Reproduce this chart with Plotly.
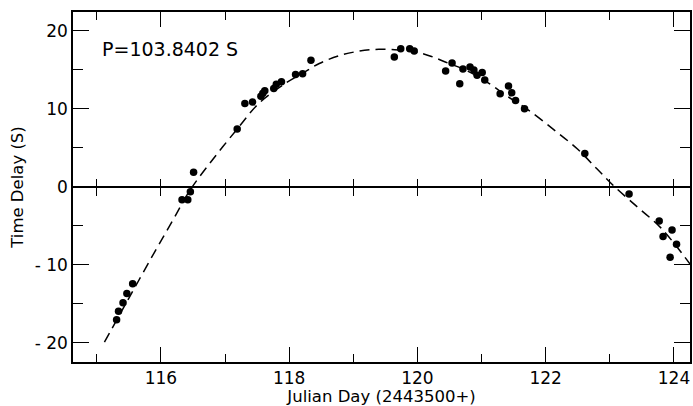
import plotly.graph_objects as go

# ---- data ----
obs_day = [115.31, 115.34, 115.41, 115.47, 115.56, 116.33, 116.42, 116.46, 116.51,
           117.19, 117.31, 117.43, 117.56, 117.59, 117.62, 117.76, 117.80, 117.88,
           118.10, 118.21, 118.34, 119.64, 119.74, 119.88, 119.95, 120.44, 120.54,
           120.66, 120.71, 120.82, 120.88, 120.93, 121.01, 121.05, 121.29, 121.42,
           121.47, 121.53, 121.67, 122.61, 123.30, 123.77, 123.83, 123.94, 123.97,
           124.04]
obs_delay = [-17.04, -15.96, -14.87, -13.67, -12.44, -1.66, -1.66, -0.64, 1.86,
             7.4, 10.68, 10.85, 11.6, 12.0, 12.3, 12.6, 13.15, 13.45,
             14.38, 14.5, 16.2, 16.64, 17.7, 17.7, 17.4, 14.85, 15.87,
             13.2, 15.1, 15.36, 14.98, 14.3, 14.64, 13.7, 11.92, 12.9,
             12.04, 11.06, 10.0, 4.25, -0.94, -4.39, -6.39, -9.03, -5.54,
             -7.37]

fit_day = [115.12, 115.5, 115.9, 116.2, 116.45, 116.8, 117.19, 117.53, 117.95,
           118.21, 118.47, 118.78, 119.09, 119.4, 119.71, 119.97, 120.22, 120.48,
           120.74, 121.05, 121.4, 121.72, 122.13, 122.5, 122.81, 123.05, 123.43,
           123.8, 124.25]
fit_delay = [-19.9, -14.3, -8.4, -4.1, -0.5, 3.4, 7.4, 10.7, 13.3,
             14.55, 15.8, 16.8, 17.38, 17.62, 17.53, 17.3, 16.7, 15.84,
             15.0, 13.6, 11.6, 9.9, 7.3, 4.8, 2.2, 0.2, -2.6,
             -5.3, -9.9]

x_ticks = [116, 118, 120, 122, 124]
y_ticks = [-20, -10, 0, 10, 20]
y_ticktext = ["- 20", "- 10", "0", "10", "20"]
period_label = "P=103.8402 S"
x_title = "Julian Day (2443500+)"
y_title = "Time Delay (S)"

X_RANGE = [114.63, 124.25]
Y_RANGE = [-22.46, 22.4]
FONT = "DejaVu Sans"

fig = go.Figure()
fig.add_trace(go.Scatter(x=fit_day, y=fit_delay, mode="lines",
                         line=dict(color="black", width=1.5, dash="10px,6px",
                                   shape="spline", smoothing=1.0),
                         hoverinfo="skip", showlegend=False))
fig.add_trace(go.Scatter(x=obs_day, y=obs_delay, mode="markers",
                         marker=dict(color="black", size=7.5),
                         showlegend=False))
# dummy traces for the zero-line axes
fig.add_trace(go.Scatter(x=[None], y=[None], xaxis="x2", yaxis="y", showlegend=False))
fig.add_trace(go.Scatter(x=[None], y=[None], xaxis="x3", yaxis="y", showlegend=False))

zero_pos = (0 - Y_RANGE[0]) / (Y_RANGE[1] - Y_RANGE[0])

common_x = dict(range=X_RANGE, showgrid=False, zeroline=False)
fig.update_layout(
    width=693, height=406,
    margin=dict(l=73, r=1, t=12, b=43),
    paper_bgcolor="white", plot_bgcolor="white",
    font=dict(family=FONT, color="black", size=16),
    xaxis=dict(**common_x, tickvals=x_ticks, ticks="inside", ticklen=15,
               tickwidth=1.3, tickcolor="black",
               minor=dict(dtick=1, tick0=115, ticks="inside", ticklen=8,
                          tickwidth=1.3, tickcolor="black"),
               showline=True, linecolor="black", linewidth=1.5, mirror="ticks",
               tickfont=dict(size=17, family=FONT),
               title=dict(text=x_title, standoff=5, font=dict(size=16.5, family=FONT))),
    xaxis2=dict(**common_x, overlaying="x", anchor="free", position=zero_pos,
                tickmode="linear", tick0=115, dtick=1, ticks="outside", ticklen=8,
                tickwidth=1.3, tickcolor="black", showticklabels=False,
                showline=True, linecolor="black", linewidth=1.5),
    xaxis3=dict(**common_x, overlaying="x", anchor="free", position=zero_pos,
                tickmode="linear", tick0=115, dtick=1, ticks="inside", ticklen=8,
                tickwidth=1.3, tickcolor="black", showticklabels=False,
                showline=False),
    yaxis=dict(range=Y_RANGE, showgrid=False, zeroline=False,
               tickvals=y_ticks, ticktext=y_ticktext, ticks="inside", ticklen=16,
               tickwidth=1.3, tickcolor="black",
               minor=dict(dtick=5, tick0=0, ticks="inside", ticklen=10,
                          tickwidth=1.3, tickcolor="black"),
               showline=True, linecolor="black", linewidth=1.5, mirror="ticks",
               tickfont=dict(size=17, family=FONT),
               title=dict(text=y_title, standoff=7, font=dict(size=16.5, family=FONT))),
    annotations=[dict(x=115.05, y=17.66, xref="x", yref="y", text=period_label,
                      showarrow=False, xanchor="left", yanchor="middle",
                      font=dict(size=19, family=FONT))],
)

fig.write_html("out.html")
